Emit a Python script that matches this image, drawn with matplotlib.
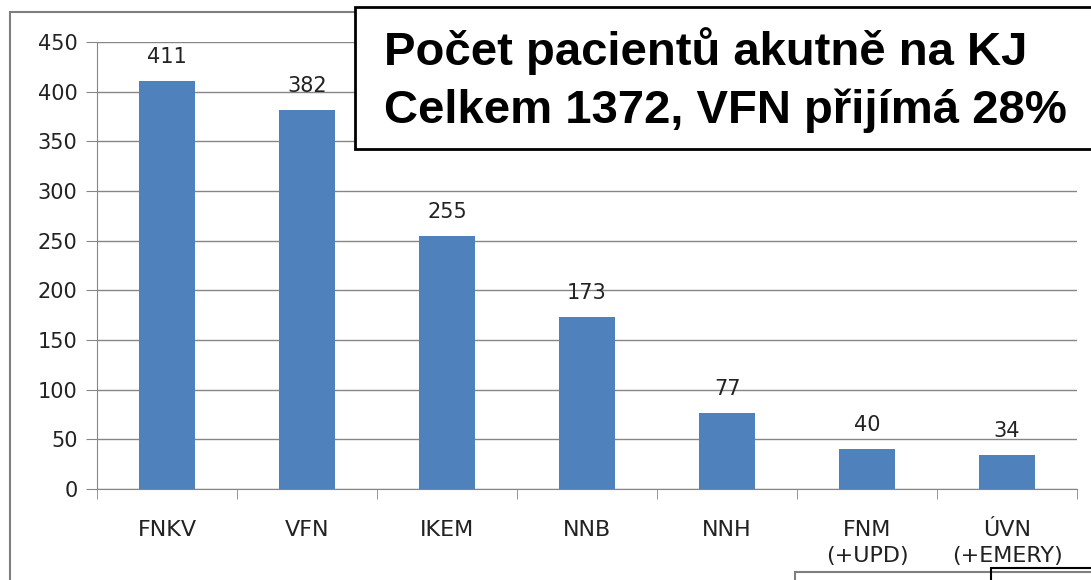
import matplotlib
matplotlib.use("Agg")
import matplotlib.pyplot as plt
from matplotlib.patches import Rectangle

# data
categories = ['FNKV', 'VFN', 'IKEM', 'NNB', 'NNH', 'FNM\n(+UPD)', 'ÚVN\n(+EMERY)']
patients = [411, 382, 255, 173, 77, 40, 34]
y_ticks = list(range(0, 451, 50))

title_lines = 'Počet pacientů akutně na KJ\nCelkem 1372, VFN přijímá 28%'

W, H = 1091, 580
fig = plt.figure(figsize=(W / 100, H / 100), dpi=100)
ax = fig.add_axes([97 / W, 1 - 489 / H, (1077 - 97) / W, (489 - 42) / H])

bar_color = '#4F81BD'
grid_color = '#868686'
text_color = '#222222'
x = range(len(categories))
ax.bar(x, patients, width=0.4, color=bar_color, zorder=3)

for xi, v in zip(x, patients):
    ax.text(xi, v + 18, str(v), ha='center', va='baseline', fontsize=15,
            family='DejaVu Sans', color=text_color)

ax.set_xlim(-0.5, len(categories) - 0.5)
ax.set_ylim(0, 450)
ax.set_yticks(y_ticks)
ax.set_yticklabels([str(t) for t in y_ticks], fontsize=15, family='DejaVu Sans')
ax.yaxis.grid(True, color=grid_color, linewidth=1, zorder=0)
ax.tick_params(axis='y', length=8, color=grid_color, pad=6, labelcolor=text_color)

ax.set_xticks(x)
ax.set_xticklabels(categories, fontsize=16, family='DejaVu Sans', linespacing=1.4,
                   color=text_color, va='top')
ax.tick_params(axis='x', length=0, pad=22)
# category boundary ticks
ax.set_xticks([i - 0.5 for i in range(len(categories) + 1)], minor=True)
ax.tick_params(axis='x', which='minor', length=7, color=grid_color, direction='out')

for s in ['top', 'right']:
    ax.spines[s].set_visible(False)
for s in ['left', 'bottom']:
    ax.spines[s].set_color(grid_color)

# outer chart frame
fig.patches.append(Rectangle((10 / W, -0.5), 1.2, 1.5 - 12 / H, transform=fig.transFigure,
                             fill=False, edgecolor='#7f7f7f', linewidth=1.5))

# title box
fig.patches.append(Rectangle((355 / W, 1 - 149 / H), 1.0, 142 / H, transform=fig.transFigure,
                             facecolor='white', edgecolor='black', linewidth=2, zorder=5))
fig.text(384 / W, 1 - 80 / H, title_lines, fontsize=34, fontweight='bold',
         family='Liberation Sans', ha='left', va='center', linespacing=1.38, zorder=6)

# partial boxes at the bottom edge
fig.patches.append(Rectangle((795 / W, -0.1), 1.0, 0.1 + 8 / H, transform=fig.transFigure,
                             fill=False, edgecolor='#7f7f7f', linewidth=1.5))
fig.patches.append(Rectangle((991 / W, -0.1), 1.0, 0.1 + 12 / H, transform=fig.transFigure,
                             fill=False, edgecolor='black', linewidth=1.5))

fig.savefig('out.png', dpi=100)
